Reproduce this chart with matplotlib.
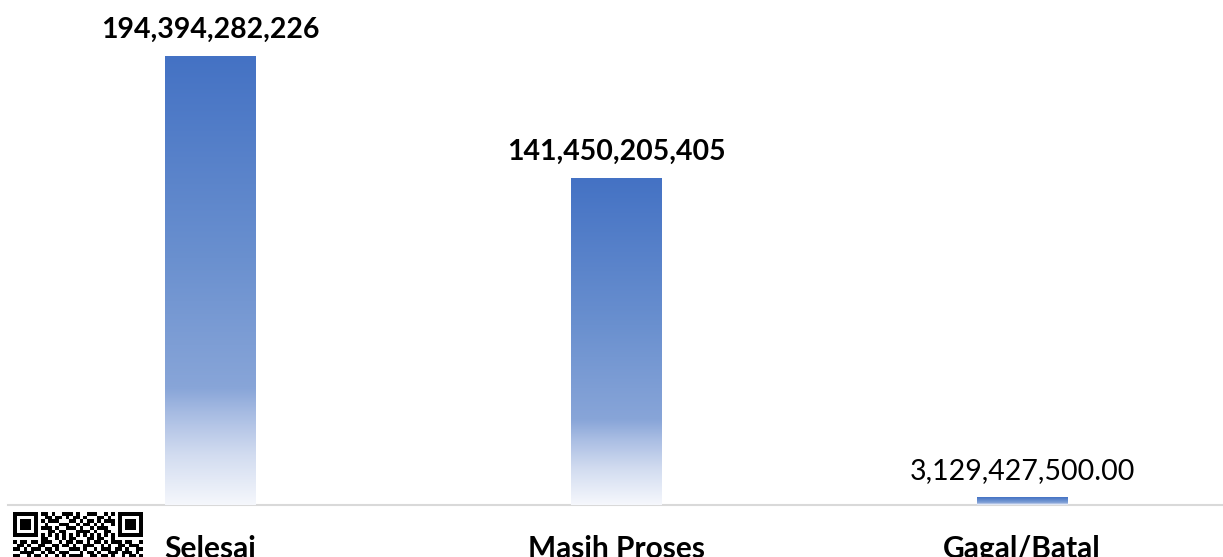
import matplotlib
matplotlib.use("Agg")
import matplotlib.pyplot as plt
import matplotlib.transforms as mtransforms
from matplotlib.colors import LinearSegmentedColormap
import numpy as np

# values
categories = ["Selesai", "Masih Proses", "Gagal/Batal"]
values = [194394282226, 141450205405, 3129427500]
value_labels = ["194,394,282,226", "141,450,205,405", "3,129,427,500.00"]
label_bold = [True, True, False]

# decorative QR code in the lower left corner (only the top rows are visible)
qr_rows = [
    "1111111" + "0" + "110100111010011100101" + "0" + "1111111",
    "1000001" + "0" + "011011010110100011010" + "0" + "1000001",
    "1011101" + "0" + "101110001101011010111" + "0" + "1011101",
    "1011101" + "0" + "010001110010110101001" + "0" + "1011101",
    "1011101" + "0" + "111010011101001011100" + "0" + "1011101",
    "1000001" + "0" + "001101100011110100110" + "0" + "1000001",
    "1111111" + "0" + "101010101010101010101" + "0" + "1111111",
    "0000000" + "0" + "110010101100011011001" + "0" + "0000000",
    "1011011011100101101101011010111011001",
    "0110100110011011010011100101001101110",
    "1101011101101000111010010111011010011",
    "0011110010110111000101101001110111010",
    "1100101101001010111100110110100101101",
]

W, H = 1223, 557
fig = plt.figure(figsize=(W / 100, H / 100), dpi=100)
plt.rcParams['font.family'] = ['Lato', 'DejaVu Sans']

base_px = 505
ax = fig.add_axes([7.6 / W, (H - base_px) / H, 1217.4 / W, base_px / H])
ax.axis("off")

grad = LinearSegmentedColormap.from_list("bar", [
    (0.0, "#4472C4"),
    (0.45, "#6A90CF"),
    (0.74, "#88A5D8"),
    (0.80, "#A9BDE3"),
    (0.89, "#D2DCF0"),
    (1.0, "#F5F7FC"),
])
g = np.linspace(0, 1, 256).reshape(-1, 1)

x = np.arange(len(categories))
bars = ax.bar(x, values, width=0.224, color="none", edgecolor="none")
for b in bars:
    x0, w, h = b.get_x(), b.get_width(), b.get_height()
    ax.imshow(g, cmap=grad, extent=(x0, x0 + w, 0, h), aspect="auto",
              origin="upper", zorder=2, interpolation="bilinear")
ax.set_xlim(-0.5, 2.5)
ax.set_ylim(0, values[0] * base_px / 449)

ax.axhline(0, color="#D9D9D9", lw=1.5, zorder=1, clip_on=False)

for b, lab, bold in zip(bars, value_labels, label_bold):
    ax.annotate(lab, (b.get_x() + b.get_width() / 2, b.get_height()),
                xytext=(0, 18.5 * 0.72), textcoords="offset points",
                ha="center", va="baseline", fontsize=20.5,
                fontweight="bold" if bold else "normal", color="#000000")

# category labels sit on the bottom edge, cut off as in the original
lab_tr = mtransforms.offset_copy(ax.get_xaxis_transform(), fig=fig,
                                 y=-(H - base_px + 1), units="dots")
for xi, cat in zip(x, categories):
    ax.text(xi, 0, cat, transform=lab_tr, ha="center", va="baseline",
            fontsize=21.5, fontweight="bold", color="#000000", clip_on=False)

# QR code
qr = np.array([[int(c) for c in r] for r in qr_rows])
mod = 3.5
qax = fig.add_axes([13 / W, (H - 512 - len(qr_rows) * mod) / H,
                    37 * mod / W, len(qr_rows) * mod / H])
qax.imshow(1 - qr, cmap="gray", vmin=0, vmax=1, aspect="auto",
           interpolation="nearest")
qax.axis("off")

fig.savefig("out.png", dpi=100)
